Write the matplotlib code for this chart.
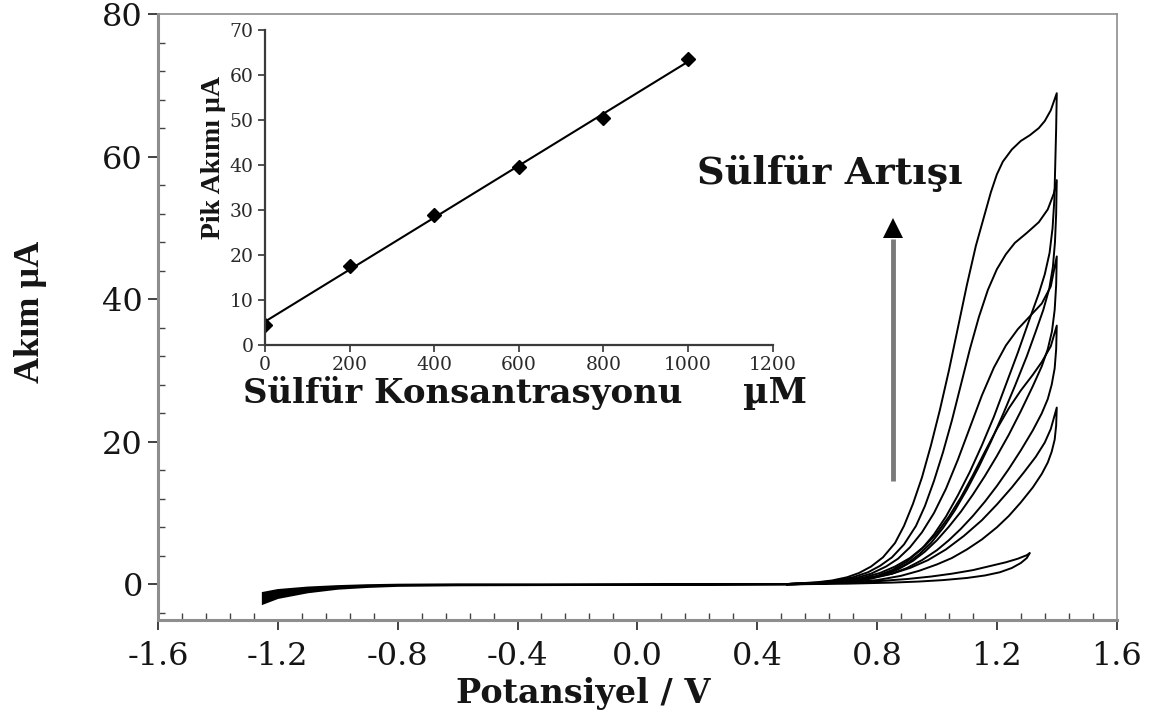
import numpy as np
import matplotlib
matplotlib.use("Agg")
import matplotlib.pyplot as plt
from matplotlib.ticker import MultipleLocator, AutoMinorLocator

# ---------------- data ----------------
# common background (baseline) band, forward and reverse
base_fwd_x = [-1.25, -1.2, -1.1, -1.0, -0.9, -0.8, -0.6, -0.2, 0.2, 0.5]
base_fwd_y = [-1.2, -0.8, -0.45, -0.25, -0.12, -0.05, 0.0, 0.0, 0.02, 0.05]
base_rev_x = [0.5, 0.2, -0.2, -0.6, -0.8, -0.9, -1.0, -1.1, -1.2, -1.25]
base_rev_y = [-0.02, -0.05, -0.08, -0.12, -0.2, -0.35, -0.6, -1.1, -1.9, -2.7]

# blank CV (to 1.3 V)
blank_fwd_x = [0.5, 0.65, 0.8, 0.9, 0.98, 1.05, 1.12, 1.18, 1.23, 1.27, 1.3, 1.31]
blank_fwd_y = [0.05, 0.2, 0.45, 0.75, 1.1, 1.5, 2.0, 2.6, 3.1, 3.6, 4.1, 4.4]
blank_rev_x = [1.31, 1.3, 1.28, 1.25, 1.21, 1.16, 1.1, 1.02, 0.94, 0.85, 0.7, 0.5]
blank_rev_y = [4.4, 3.7, 3.0, 2.3, 1.7, 1.25, 0.9, 0.6, 0.4, 0.25, 0.1, 0.0]

# sulfide CVs (to 1.4 V)
cv1_fwd_x = [0.5, 0.6, 0.7, 0.78, 0.85, 0.91, 0.97, 1.03, 1.09, 1.15, 1.2, 1.25, 1.29,
             1.33, 1.36, 1.38, 1.4]
cv1_fwd_y = [0.05, 0.18, 0.45, 0.9, 1.5, 2.3, 3.4, 4.9, 6.8, 9.0, 11.2, 13.6, 15.7,
             17.9, 19.9, 21.8, 24.8]
cv1_rev_x = [1.4, 1.398, 1.393, 1.383, 1.37, 1.35, 1.32, 1.28, 1.24, 1.2, 1.15, 1.1,
             1.05, 1.0, 0.94, 0.88, 0.8, 0.7, 0.6, 0.5]
cv1_rev_y = [24.8, 22.3, 20.3, 18.6, 17.1, 15.5, 13.6, 11.5, 9.6, 8.0, 6.3, 4.9,
             3.7, 2.8, 1.9, 1.2, 0.6, 0.25, 0.08, 0.0]

cv2_fwd_x = [0.5, 0.6, 0.68, 0.75, 0.81, 0.86, 0.91, 0.96, 1.0, 1.04, 1.08, 1.12, 1.16,
             1.2, 1.24, 1.28, 1.32, 1.35, 1.38, 1.4]
cv2_fwd_y = [0.05, 0.2, 0.45, 0.9, 1.6, 2.5, 3.7, 5.4, 7.2, 9.5, 12.2, 15.3, 18.6,
             21.8, 24.7, 27.2, 29.4, 31.2, 33.4, 36.3]
cv2_rev_x = [1.4, 1.398, 1.393, 1.383, 1.37, 1.35, 1.32, 1.28, 1.24, 1.2, 1.16, 1.12,
             1.08, 1.04, 1.0, 0.95, 0.9, 0.85, 0.78, 0.7, 0.6, 0.5]
cv2_rev_y = [36.3, 33.0, 30.3, 28.0, 26.0, 24.0, 21.6, 18.8, 16.2, 13.8, 11.6, 9.6,
             7.8, 6.2, 4.8, 3.4, 2.3, 1.5, 0.8, 0.35, 0.1, 0.0]

cv3_fwd_x = [0.5, 0.6, 0.67, 0.73, 0.78, 0.83, 0.87, 0.91, 0.95, 0.99, 1.03, 1.07, 1.11,
             1.15, 1.19, 1.23, 1.27, 1.31, 1.35, 1.38, 1.4]
cv3_fwd_y = [0.05, 0.22, 0.45, 0.9, 1.5, 2.5, 3.6, 5.2, 7.3, 10.0, 13.4, 17.5, 22.0,
             26.5, 30.4, 33.5, 35.8, 37.6, 39.4, 41.8, 46.0]
cv3_rev_x = [1.4, 1.398, 1.393, 1.384, 1.37, 1.35, 1.32, 1.28, 1.24, 1.2, 1.16, 1.12,
             1.08, 1.04, 1.0, 0.96, 0.92, 0.87, 0.82, 0.75, 0.65, 0.5]
cv3_rev_y = [46.0, 42.0, 38.5, 35.5, 33.0, 30.6, 27.8, 24.3, 21.0, 18.0, 15.2, 12.6,
             10.2, 8.1, 6.2, 4.6, 3.3, 2.1, 1.3, 0.6, 0.2, 0.0]

cv4_fwd_x = [0.5, 0.6, 0.66, 0.72, 0.77, 0.81, 0.85, 0.89, 0.93, 0.96, 0.99, 1.02, 1.05,
             1.08, 1.11, 1.14, 1.17, 1.2, 1.23, 1.26, 1.3, 1.34, 1.37, 1.39, 1.4]
cv4_fwd_y = [0.05, 0.25, 0.5, 1.0, 1.7, 2.6, 3.8, 5.6, 8.2, 11.0, 14.5, 18.5, 23.0,
             28.0, 33.0, 37.5, 41.3, 44.2, 46.3, 47.9, 49.3, 50.8, 52.6, 54.8, 56.7]
cv4_rev_x = [1.4, 1.398, 1.394, 1.387, 1.375, 1.355, 1.33, 1.3, 1.26, 1.22, 1.18, 1.14,
             1.1, 1.06, 1.02, 0.98, 0.94, 0.9, 0.85, 0.8, 0.72, 0.62, 0.5]
cv4_rev_y = [56.7, 52.0, 48.0, 44.5, 41.5, 38.5, 35.5, 32.0, 27.8, 23.8, 20.0, 16.5,
             13.3, 10.4, 7.9, 5.8, 4.2, 2.9, 1.8, 1.1, 0.5, 0.15, 0.0]

cv5_fwd_x = [0.5, 0.6, 0.65, 0.7, 0.74, 0.78, 0.82, 0.86, 0.89, 0.92, 0.95, 0.98, 1.01,
             1.04, 1.07, 1.1, 1.13, 1.16, 1.18, 1.2, 1.22, 1.25, 1.28, 1.31, 1.34, 1.36,
             1.38, 1.4]
cv5_fwd_y = [0.05, 0.3, 0.55, 1.0, 1.6, 2.5, 3.8, 5.8, 8.2, 11.3, 15.0, 19.5, 24.5,
             30.0, 36.0, 42.0, 47.5, 52.0, 55.0, 57.5, 59.3, 61.0, 62.2, 63.0, 64.0, 65.0,
             66.5, 68.9]
cv5_rev_x = [1.4, 1.398, 1.395, 1.392, 1.386, 1.376, 1.36, 1.34, 1.31, 1.27, 1.23, 1.19,
             1.15, 1.11, 1.07, 1.03, 0.99, 0.95, 0.9, 0.85, 0.8, 0.72, 0.62, 0.5]
cv5_rev_y = [68.9, 64.0, 59.0, 54.0, 50.0, 46.5, 43.5, 40.8, 37.3, 32.5, 28.0, 23.5,
             19.5, 15.8, 12.5, 9.5, 7.0, 5.0, 3.2, 2.0, 1.2, 0.5, 0.15, 0.0]

# inset calibration data
conc_uM = [0, 200, 400, 600, 800, 1000]
peak_uA = [4.5, 17.5, 29.0, 39.5, 50.5, 63.5]

x_ticks = [-1.6, -1.2, -0.8, -0.4, 0.0, 0.4, 0.8, 1.2, 1.6]
x_ticklabels = ["-1.6", "-1.2", "-0.8", "-0.4", "0.0", "0.4", "0.8", "1.2", "1.6"]
y_ticks = [0, 20, 40, 60, 80]

# ---------------- figure ----------------
plt.rcParams['font.family'] = ['DejaVu Serif']
TXT = '#151515'
SPINE = '#8e8e8e'

fig = plt.figure(figsize=(11.62, 7.24), dpi=100)
ax = fig.add_axes([0.136, 0.1436, 0.825, 0.837])

# baseline band
band_x = base_fwd_x + base_rev_x
band_y = base_fwd_y + base_rev_y
ax.fill(band_x, band_y, color='black', lw=1.5)

curves = [
    (blank_fwd_x, blank_fwd_y, blank_rev_x, blank_rev_y),
    (cv1_fwd_x, cv1_fwd_y, cv1_rev_x, cv1_rev_y),
    (cv2_fwd_x, cv2_fwd_y, cv2_rev_x, cv2_rev_y),
    (cv3_fwd_x, cv3_fwd_y, cv3_rev_x, cv3_rev_y),
    (cv4_fwd_x, cv4_fwd_y, cv4_rev_x, cv4_rev_y),
    (cv5_fwd_x, cv5_fwd_y, cv5_rev_x, cv5_rev_y),
]
for fx, fy, rx, ry in curves:
    ax.plot(fx + rx, fy + ry, color='black', lw=1.4, solid_joinstyle='round')

ax.set_xlim(-1.6, 1.6)
ax.set_ylim(-5, 80)
ax.set_xticks(x_ticks)
ax.set_xticklabels(x_ticklabels)
ax.set_yticks(y_ticks)
ax.xaxis.set_minor_locator(AutoMinorLocator(5))
ax.yaxis.set_minor_locator(AutoMinorLocator(5))
ax.tick_params(which='major', direction='out', length=7, width=1.3, color='#333333',
               labelsize=23, labelcolor=TXT, pad=4)
ax.tick_params(which='minor', direction='in', length=5, width=1.0, color='#444444')
ax.tick_params(axis='x', which='major', pad=8)
for side, sp in ax.spines.items():
    sp.set_color(SPINE)
    sp.set_linewidth(2.2 if side in ('left', 'bottom') else 1.2)

ax.set_xlabel('Potansiyel / V', fontsize=24, fontweight='bold', color=TXT)
ax.xaxis.set_label_coords(0.443, -0.094)
ax.set_ylabel('Akım µA', fontsize=26, fontweight='bold', color=TXT,
              family=['Liberation Serif', 'DejaVu Serif'])
ax.yaxis.set_label_coords(-0.1157, 0.508)

ax.text(0.562, 0.7376, 'Sülfür Artışı', transform=ax.transAxes, ha='left', va='center',
        fontsize=27.5, fontweight='bold', color=TXT, zorder=10)

# arrow
ax.plot([0.855, 0.855], [14.5, 48.5], color='#7a7a7a', lw=3.5, solid_capstyle='butt')
ax.plot([0.855], [50.0], marker='^', color='black', markersize=14, markeredgewidth=0)

# ---------------- inset ----------------
ins = fig.add_axes([0.228, 0.5235, 0.437, 0.435])
ins.set_facecolor('none')
slope, intercept = np.polyfit(conc_uM, peak_uA, 1)
fit_x = np.array([conc_uM[0], conc_uM[-1]])
ins.plot(fit_x, slope * fit_x + intercept, color='black', lw=1.5)
ins.plot(conc_uM, peak_uA, linestyle='none', marker='D', markersize=7, color='black')
ins.set_xlim(0, 1200)
ins.set_ylim(0, 70)
ins.xaxis.set_major_locator(MultipleLocator(200))
ins.yaxis.set_major_locator(MultipleLocator(10))
for side in ('top', 'right'):
    ins.spines[side].set_visible(False)
for side in ('left', 'bottom'):
    ins.spines[side].set_color('#3a3a3a')
    ins.spines[side].set_linewidth(1.6)
ins.tick_params(direction='out', length=5, width=1.2, color='#333333',
                labelsize=13.5, labelcolor='#2a2a2a', pad=3)
ins.set_ylabel('Pik Akımı µA', fontsize=20, fontweight='bold', color=TXT,
               family=['Liberation Serif', 'DejaVu Serif'])
ins.yaxis.set_label_coords(-0.077, 0.597)
ins.text(0.39, -0.1, 'Sülfür Konsantrasyonu', transform=ins.transAxes, ha='center',
         va='top', fontsize=24.5, fontweight='bold', color=TXT)
ins.text(1.004, -0.1, 'µM', transform=ins.transAxes, ha='center', va='top',
         fontsize=25, fontweight='bold', color=TXT)

fig.savefig('out.png', dpi=100)
